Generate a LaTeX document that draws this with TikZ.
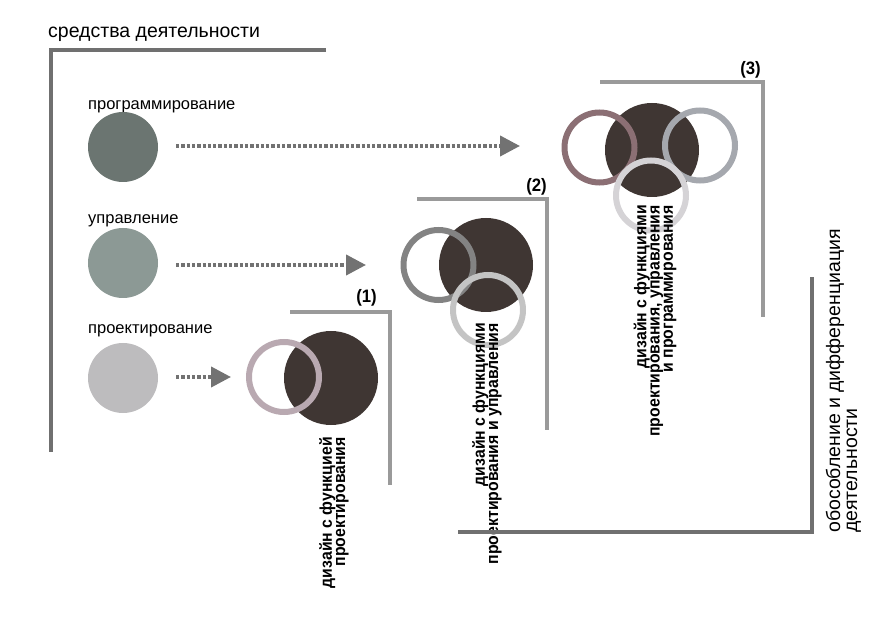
\documentclass[tikz,border=0pt]{standalone}
\usepackage{fontspec}
\setmainfont{Liberation Sans}
\newfontface\condbold[FakeStretch=0.93]{Liberation Sans Bold}
\newcommand\tightlns{\lineskiplimit=-30pt\relax\lineskip=0pt\relax}
\usetikzlibrary{arrows.meta}
\definecolor{cprog}{HTML}{6B7571}
\definecolor{cupr}{HTML}{8C9995}
\definecolor{cproe}{HTML}{BDBCBE}
\definecolor{cdark}{HTML}{3F3633}
\definecolor{rmauve}{HTML}{B9A9B1}
\definecolor{rgrey}{HTML}{838383}
\definecolor{rlight}{HTML}{C4C4C4}
\definecolor{rplum}{HTML}{8B6F74}
\definecolor{rblue}{HTML}{A5A8AE}
\definecolor{rpale}{HTML}{D5D3D6}
\definecolor{bmain}{HTML}{707070}
\definecolor{bgrp}{HTML}{9A9A9A}
\definecolor{carrow}{HTML}{727272}
\tikzset{
  srcdisc/.style={circle, minimum size=70pt, inner sep=0pt, draw=none},
  bigdisc/.style={circle, fill=cdark, minimum size=94pt, inner sep=0pt, draw=none},
  ringnode/.style={circle, minimum size=70pt, inner sep=0pt, line width=6pt},
  lbl/.style={font=\fontsize{16.5}{19}\selectfont, inner sep=0pt, anchor=base west},
  vtext/.style={font=\condbold\fontsize{17}{13.2}\selectfont\tightlns, inner sep=0pt, rotate=90, anchor=east, align=right},
  numlbl/.style={font=\condbold\fontsize{18}{19}\selectfont, inner sep=0pt, anchor=base east},
  mainbr/.style={draw=bmain, line width=4pt},
  grpbr/.style={draw=bgrp, line width=3.5pt},
  dotarrow/.style={draw=carrow, line width=4pt, dash pattern=on 3.3pt off 2pt,
     -{Triangle[length=20pt,width=20pt,fill=carrow]}}
}
\begin{document}
\begin{tikzpicture}[x=1pt,y=-1pt]
\useasboundingbox (0,0) rectangle (892,620);
% title and main bracket
\node[font=\fontsize{19.5}{22}\selectfont, inner sep=0pt, anchor=base west] (title) at (48,38) {средства деятельности};
\coordinate (mbA) at (326,50);
\coordinate (mbB) at (51,50);
\coordinate (mbC) at (51,452);
\draw[mainbr] (mbA) -- (mbB) -- (mbC);
% source discs
\node[lbl] (lprog) at (88,110) {программирование};
\node[srcdisc, fill=cprog] (prog) at (123,147) {};
\node[lbl] (lupr) at (88,224) {управление};
\node[srcdisc, fill=cupr] (upr) at (123,263) {};
\node[lbl] (lproe) at (88,334) {проектирование};
\node[srcdisc, fill=cproe] (proe) at (123,378) {};
% arrow targets
\coordinate (t1) at (520,146);
\coordinate (t2) at (366,265);
\coordinate (t3) at (231,377);
\coordinate (s1) at (176,146);
\coordinate (s2) at (176,265);
\coordinate (s3) at (176,377);
\draw[dotarrow] (s1) -- (t1);
\draw[dotarrow] (s2) -- (t2);
\draw[dotarrow] (s3) -- (t3);
% group 1
\node[bigdisc] (d1) at (331,378) {};
\node[ringnode, draw=rmauve] (r1) at (284,377) {};
\coordinate (b1A) at (290,312);
\coordinate (b1B) at (390,312);
\coordinate (b1C) at (390,485);
\draw[grpbr] (b1A) -- (b1B) -- (b1C);
\node[numlbl] (n1) at (377,303) {(1)};
\node[vtext] (v1) at (334,437) {дизайн с функцией\\проектирования};
% group 2
\node[bigdisc] (d2) at (486,265) {};
\node[ringnode, draw=rgrey] (r2a) at (438.5,265) {};
\node[ringnode, draw=rlight] (r2b) at (488,310) {};
\coordinate (b2A) at (417,199);
\coordinate (b2B) at (547,199);
\coordinate (b2C) at (547,430);
\draw[grpbr] (b2A) -- (b2B) -- (b2C);
\node[numlbl] (n2) at (547,192) {(2)};
\node[vtext] (v2) at (487,323) {дизайн с функциями\\проектирования и управления};
% group 3
\node[bigdisc] (d3) at (652,150) {};
\node[ringnode, draw=rplum] (r3a) at (599.5,147.5) {};
\node[ringnode, draw=rblue] (r3b) at (700,145.5) {};
\node[ringnode, draw=rpale] (r3c) at (651,195.5) {};
\coordinate (b3A) at (600,82);
\coordinate (b3B) at (763,82);
\coordinate (b3C) at (763,317);
\draw[grpbr] (b3A) -- (b3B) -- (b3C);
\node[numlbl] (n3) at (761,75) {(3)};
\node[vtext] (v3) at (655,205) {дизайн с функциями\\проектирования, управления\\и программирования};
% bottom bracket and right text
\coordinate (bbA) at (458,532);
\coordinate (bbB) at (812,532);
\coordinate (bbC) at (812,277);
\draw[mainbr] (bbA) -- (bbB) -- (bbC);
\node[font=\fontsize{19.5}{17}\selectfont, inner sep=0pt, rotate=90, anchor=west, align=left] (rt) at (843.5,533) {обособление и дифференциация\\деятельности};
\end{tikzpicture}
\end{document}
